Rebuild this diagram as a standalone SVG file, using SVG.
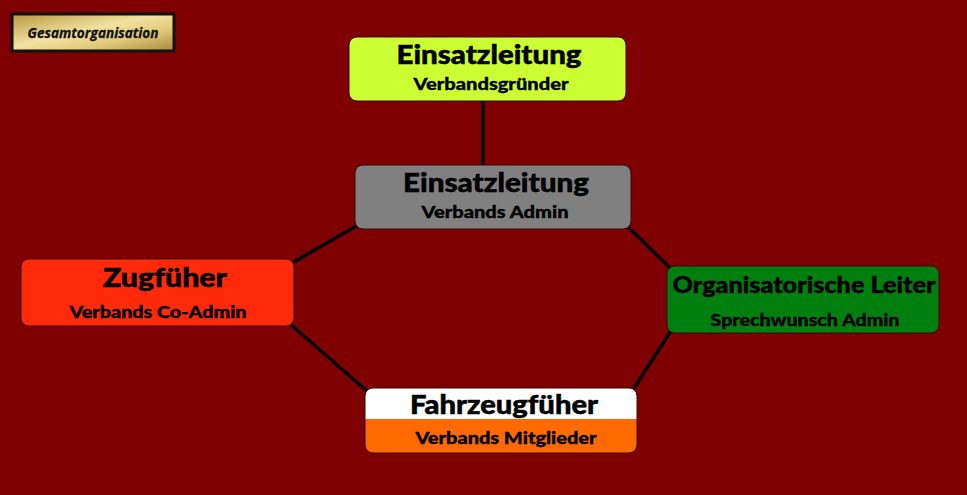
<svg xmlns="http://www.w3.org/2000/svg" width="967" height="495" viewBox="0 0 967 495">
<defs>
<linearGradient id="gold" x1="0" y1="0" x2="1" y2="1">
<stop offset="0" stop-color="#B8963E"/>
<stop offset="0.45" stop-color="#F2E3A2"/>
<stop offset="0.7" stop-color="#E0C878"/>
<stop offset="1" stop-color="#A8873A"/>
</linearGradient>
<style>
.box{stroke:#3A0A0A;stroke-width:1}
.t{font-family:Lato,"DejaVu Sans",sans-serif;font-weight:900;fill:#000;stroke:#000;text-anchor:middle}
.h{font-size:26px;stroke-width:0.5px}
.s{font-size:17px;stroke-width:0.35px}
.c{stroke:#000;stroke-width:3.5;fill:none}
</style>
</defs>
<rect width="967" height="495" fill="#7F0000"/>
<g id="connectors">
<line class="c" x1="483" y1="101" x2="483" y2="165"/>
<line class="c" x1="358" y1="225" x2="292" y2="263"/>
<line class="c" x1="627" y1="226" x2="670" y2="268"/>
<line class="c" x1="290" y1="324" x2="368" y2="392"/>
<line class="c" x1="671" y1="331" x2="632" y2="391"/>
</g>
<g id="title">
<rect x="12" y="14" width="162" height="37" fill="url(#gold)" stroke="#111" stroke-width="3"/>
<text x="93" y="38" font-family="'Open Sans','DejaVu Sans',sans-serif" font-weight="bold" font-style="italic" font-size="14" text-anchor="middle" textLength="131" lengthAdjust="spacingAndGlyphs" fill="#111" stroke="#111" stroke-width="0.3">Gesamtorganisation</text>
</g>
<g id="node-gruender">
<rect class="box" x="349" y="37" width="277" height="64" rx="8" fill="#CCFF33"/>
<text class="t h" x="489" y="64" textLength="185" lengthAdjust="spacingAndGlyphs">Einsatzleitung</text>
<text class="t s" x="491" y="90" textLength="155" lengthAdjust="spacingAndGlyphs">Verbandsgründer</text>
</g>
<g id="node-admin">
<rect class="box" x="355" y="165" width="276" height="64" rx="8" fill="#808080"/>
<text class="t h" x="496" y="192" textLength="186" lengthAdjust="spacingAndGlyphs">Einsatzleitung</text>
<text class="t s" x="495" y="218" textLength="147" lengthAdjust="spacingAndGlyphs">Verbands Admin</text>
</g>
<g id="node-coadmin">
<rect class="box" x="21" y="259" width="273" height="67" rx="8" fill="#FF2A0A"/>
<text class="t h" x="165" y="287" textLength="124" lengthAdjust="spacingAndGlyphs">Zugfüher</text>
<text class="t s" x="158" y="318" textLength="177" lengthAdjust="spacingAndGlyphs">Verbands Co-Admin</text>
</g>
<g id="node-orgleiter">
<rect class="box" x="667" y="266" width="272" height="67" rx="8" fill="#007F0E"/>
<text class="t" x="804" y="293" font-size="22" stroke-width="0.45" textLength="263" lengthAdjust="spacingAndGlyphs">Organisatorische Leiter</text>
<text class="t s" x="805" y="326" textLength="189" lengthAdjust="spacingAndGlyphs">Sprechwunsch Admin</text>
</g>
<g id="node-mitglieder">
<path d="M365 419 V396 a8 8 0 0 1 8 -8 H629 a8 8 0 0 1 8 8 V419 Z" fill="#FFFFFF"/>
<path d="M365 419 H637 V445 a8 8 0 0 1 -8 8 H373 a8 8 0 0 1 -8 -8 Z" fill="#FF6A00"/>
<rect class="box" x="365" y="388" width="272" height="65" rx="8" fill="none"/>
<text class="t h" x="504" y="414" textLength="188" lengthAdjust="spacingAndGlyphs">Fahrzeugfüher</text>
<text class="t s" x="506" y="444" textLength="181" lengthAdjust="spacingAndGlyphs">Verbands Mitglieder</text>
</g>
</svg>
